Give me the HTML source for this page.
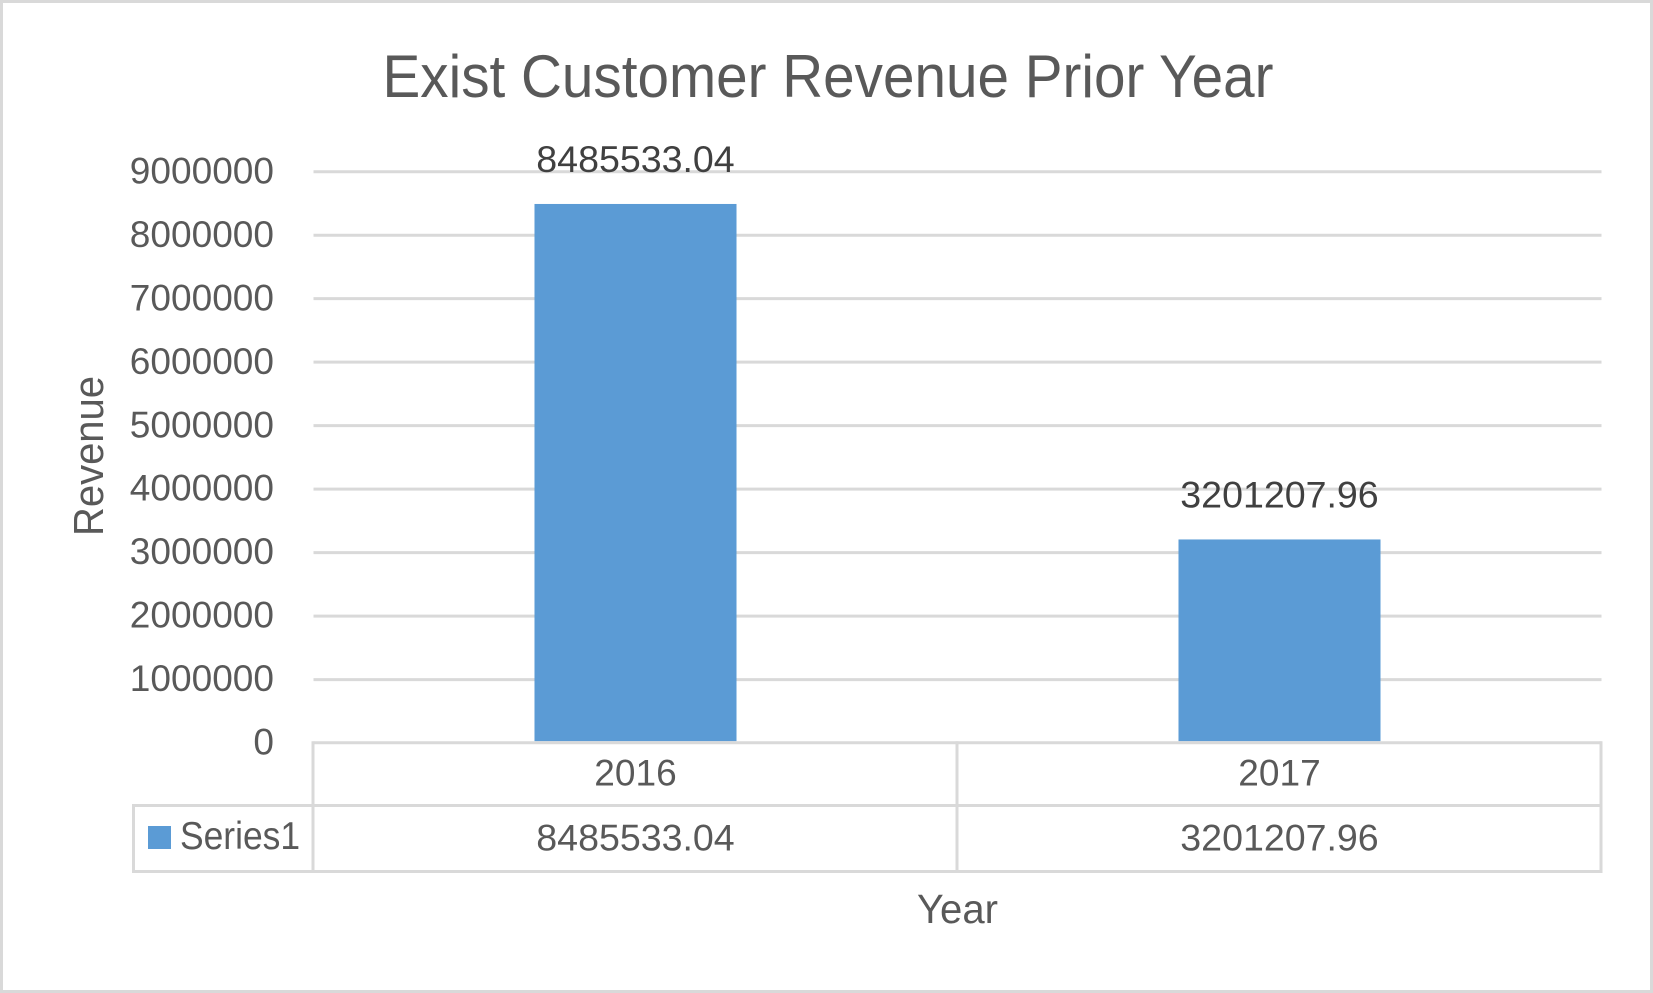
<!DOCTYPE html>
<html lang="en">
<head>
<meta charset="utf-8">
<title>Exist Customer Revenue Prior Year</title>
<style>
html,body{margin:0;padding:0;background:#fff;width:1653px;height:993px;overflow:hidden}
svg{display:block}
text{font-family:"Liberation Sans",sans-serif;fill:#595959}
</style>
</head>
<body>
<svg id="chart" xmlns="http://www.w3.org/2000/svg" width="1653" height="993" viewBox="0 0 1653 993">
  <rect x="1.5" y="1.5" width="1650" height="990" fill="#fff" stroke="#d9d9d9" stroke-width="3"/>
  <text x="382.5" y="97" font-size="60" textLength="891" lengthAdjust="spacingAndGlyphs">Exist Customer Revenue Prior Year</text>
  <text transform="translate(105,536) rotate(-90) translate(0,-2)" font-size="42" textLength="160" lengthAdjust="spacingAndGlyphs">Revenue</text>
  <text x="917" y="923" font-size="41" textLength="81" lengthAdjust="spacingAndGlyphs">Year</text>
  <g id="grid"></g>
  <g id="yticks"></g>
  <g id="bars"></g>
  <g id="labels"></g>
  <g id="table"></g>
</svg>
<script>
const categories = ['2016', '2017'];
const seriesName = 'Series1';
const seriesValues = [8485533.04, 3201207.96];
const valueLabels = ['8485533.04', '3201207.96'];
const yTicks = [0, 1000000, 2000000, 3000000, 4000000, 5000000, 6000000, 7000000, 8000000, 9000000];

const svg = document.getElementById('chart');
const NS = 'http://www.w3.org/2000/svg';
const plotLeft = 313.5, plotRight = 1601.5, baseY = 742.7, topY = 171.3, yMax = 9000000;
const rowY = 805.5, tableBottom = 871.5, tableLeft = 133.5;
const lineColor = '#d9d9d9';

function yScale(v) { return baseY - (v / yMax) * (baseY - topY); }
function bandWidth() { return (plotRight - plotLeft) / categories.length; }
function xCenter(i) { return plotLeft + bandWidth() * (i + 0.5); }
function textWidth(s) {
  let w = 0;
  for (const c of s) w += c === '.' ? 13 : 20.6;
  return w;
}
function addLine(parent, x1, y1, x2, y2) {
  const l = document.createElementNS(NS, 'line');
  l.setAttribute('x1', x1); l.setAttribute('y1', y1);
  l.setAttribute('x2', x2); l.setAttribute('y2', y2);
  l.setAttribute('stroke', lineColor);
  l.setAttribute('stroke-width', 3);
  parent.appendChild(l);
  return l;
}
function addText(parent, s, x, y, anchor, fill) {
  const t = document.createElementNS(NS, 'text');
  t.textContent = s;
  t.setAttribute('x', x); t.setAttribute('y', y);
  t.setAttribute('font-size', 37);
  t.setAttribute('text-anchor', anchor);
  t.setAttribute('textLength', textWidth(s));
  t.setAttribute('lengthAdjust', 'spacingAndGlyphs');
  if (fill) t.style.fill = fill;
  parent.appendChild(t);
  return t;
}

const grid = document.getElementById('grid');
const yticksG = document.getElementById('yticks');
yTicks.forEach(function (v) {
  const y = yScale(v);
  if (v !== 0) {
    const g = addLine(grid, plotLeft, y + 0.4, plotRight, y + 0.4);
    
    
  }
  const t = addText(yticksG, String(v), 274, y + 12, 'end');
  
  
});

const barsG = document.getElementById('bars');
const labelsG = document.getElementById('labels');
const barWidth = bandWidth() * 0.3137;
seriesValues.forEach(function (v, i) {
  const r = document.createElementNS(NS, 'rect');
  r.setAttribute('x', xCenter(i) - barWidth / 2);
  r.setAttribute('y', yScale(v));
  r.setAttribute('width', barWidth);
  r.setAttribute('height', baseY - 1.5 - yScale(v));
  r.setAttribute('fill', '#5b9bd5');
  
  
  barsG.appendChild(r);
  const t = addText(labelsG, valueLabels[i], xCenter(i), yScale(v) - 32, 'middle', '#404040');
  
  
});

const tableG = document.getElementById('table');
addLine(tableG, plotLeft, baseY, plotRight, baseY);
addLine(tableG, tableLeft, rowY, plotRight, rowY);
addLine(tableG, tableLeft, tableBottom, plotRight, tableBottom);
addLine(tableG, tableLeft, rowY - 1.5, tableLeft, tableBottom + 1.5);
for (let i = 0; i <= categories.length; i++) {
  addLine(tableG, plotLeft + bandWidth() * i - 0.5, baseY - 1.5, plotLeft + bandWidth() * i - 0.5, tableBottom + 1.5);
}
categories.forEach(function (c, i) {
  const t = addText(tableG, c, xCenter(i), 785.7, 'middle');
  
  
  const u = addText(tableG, valueLabels[i], xCenter(i), 850.7, 'middle');
  
  
});
const swatch = document.createElementNS(NS, 'rect');
swatch.setAttribute('x', 148);
swatch.setAttribute('y', 826);
swatch.setAttribute('width', 23);
swatch.setAttribute('height', 23);
swatch.setAttribute('fill', '#5b9bd5');


tableG.appendChild(swatch);
const legendText = addText(tableG, seriesName, 180, 849, 'start');
legendText.setAttribute('font-size', 39);
legendText.setAttribute('textLength', 120);


</script>
</body>
</html>
